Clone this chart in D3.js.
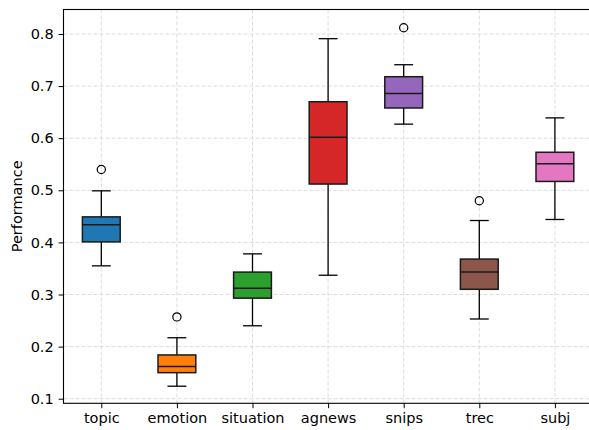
<!DOCTYPE html>
<html>
<head>
<meta charset="utf-8">
<script src="https://cdn.jsdelivr.net/npm/d3@7"></script>
<style>
  html, body { margin: 0; padding: 0; background: #ffffff; }
  svg { display: block; }
  text { font-family: "DejaVu Sans", sans-serif; }
</style>
</head>
<body>
<svg id="chart" width="589" height="430"></svg>
<script>
// ---- data ----
const categories   = ["topic", "emotion", "situation", "agnews", "snips", "trec", "subj"];
const whiskerLow   = [0.355, 0.124, 0.240, 0.337, 0.627, 0.253, 0.444];
const q1           = [0.401, 0.150, 0.293, 0.512, 0.658, 0.310, 0.517];
const medians      = [0.434, 0.162, 0.312, 0.602, 0.686, 0.343, 0.551];
const q3           = [0.449, 0.184, 0.343, 0.670, 0.718, 0.368, 0.573];
const whiskerHigh  = [0.499, 0.217, 0.378, 0.791, 0.741, 0.442, 0.639];
const outliers     = [[0.540], [0.257], [], [], [0.812], [0.480], []];
const colors       = ["#1f77b4", "#ff7f0e", "#2ca02c", "#d62728", "#9467bd", "#8c564b", "#e377c2"];
const yTicks       = [0.1, 0.2, 0.3, 0.4, 0.5, 0.6, 0.7, 0.8];
const yLabel       = "Performance";

const boxes = categories.map((c, i) => ({
  name: c, pos: i + 1,
  lo: whiskerLow[i], q1: q1[i], med: medians[i], q3: q3[i], hi: whiskerHigh[i],
  fliers: outliers[i], color: colors[i]
}));

// ---- layout ----
const plotLeft = 63.5, plotTop = 9.5, plotBottom = 403.3;
const unit = 75.6;
const plotRight = plotLeft + 7 * unit;

const svg = d3.select("#chart");
const x = d3.scaleLinear().domain([0.5, 7.5]).range([plotLeft, plotRight]);
const y = d3.scaleLinear().domain([0.0912, 0.847]).range([plotBottom, plotTop]);

// grid
const grid = svg.append("g");
grid.selectAll("line.gy").data(yTicks).join("line")
  .attr("x1", plotLeft).attr("x2", plotRight)
  .attr("y1", d => y(d)).attr("y2", d => y(d))
  .attr("stroke", "#dcdcdc").attr("stroke-width", 1).attr("stroke-dasharray", "4,2");
grid.selectAll("line.gx").data(boxes).join("line")
  .attr("y1", plotTop).attr("y2", plotBottom)
  .attr("x1", d => x(d.pos)).attr("x2", d => x(d.pos))
  .attr("stroke", "#dcdcdc").attr("stroke-width", 1).attr("stroke-dasharray", "4,2");

// boxes
const bw = x(1.25) - x(1);   // half box width (0.25 units)
const cw = x(1.125) - x(1);  // half cap width
const g = svg.append("g").selectAll("g").data(boxes).join("g");
const lw = 1.3;

g.append("line") // lower whisker
  .attr("x1", d => x(d.pos)).attr("x2", d => x(d.pos))
  .attr("y1", d => y(d.lo)).attr("y2", d => y(d.q1))
  .attr("stroke", "#000").attr("stroke-width", lw);
g.append("line") // upper whisker
  .attr("x1", d => x(d.pos)).attr("x2", d => x(d.pos))
  .attr("y1", d => y(d.q3)).attr("y2", d => y(d.hi))
  .attr("stroke", "#000").attr("stroke-width", lw);
g.append("line") // lower cap
  .attr("x1", d => x(d.pos) - cw).attr("x2", d => x(d.pos) + cw)
  .attr("y1", d => y(d.lo)).attr("y2", d => y(d.lo))
  .attr("stroke", "#000").attr("stroke-width", lw);
g.append("line") // upper cap
  .attr("x1", d => x(d.pos) - cw).attr("x2", d => x(d.pos) + cw)
  .attr("y1", d => y(d.hi)).attr("y2", d => y(d.hi))
  .attr("stroke", "#000").attr("stroke-width", lw);
g.append("rect")
  .attr("x", d => x(d.pos) - bw).attr("width", 2 * bw)
  .attr("y", d => y(d.q3)).attr("height", d => y(d.q1) - y(d.q3))
  .attr("fill", d => d.color).attr("stroke", "#1a1a1a").attr("stroke-width", 1.5);
g.append("line") // median
  .attr("x1", d => x(d.pos) - bw).attr("x2", d => x(d.pos) + bw)
  .attr("y1", d => y(d.med)).attr("y2", d => y(d.med))
  .attr("stroke", "#1a1a1a").attr("stroke-width", 1.5);
g.selectAll("circle").data(d => d.fliers.map(v => ({ v, pos: d.pos }))).join("circle")
  .attr("cx", d => x(d.pos)).attr("cy", d => y(d.v)).attr("r", 4.1)
  .attr("fill", "none").attr("stroke", "#000").attr("stroke-width", 1.2);

// axes
const fs = "14.5px";
const yAxis = svg.append("g").attr("transform", `translate(${plotLeft},0)`)
  .call(d3.axisLeft(y).tickValues(yTicks).tickFormat(d3.format(".1f")).tickSize(4.9).tickPadding(4.9));
yAxis.select(".domain").remove();
yAxis.selectAll("text").attr("font-size", fs).attr("fill", "#000").attr("font-family", "DejaVu Sans");
yAxis.selectAll("line").attr("stroke", "#000").attr("stroke-width", 1);

const xAxis = svg.append("g").attr("transform", `translate(0,${plotBottom})`)
  .call(d3.axisBottom(x).tickValues(boxes.map(b => b.pos)).tickFormat(d => categories[d - 1]).tickSize(4.9).tickPadding(4.9));
xAxis.select(".domain").remove();
xAxis.selectAll("text").attr("font-size", fs).attr("fill", "#000").attr("font-family", "DejaVu Sans");
xAxis.selectAll("line").attr("stroke", "#000").attr("stroke-width", 1);

// spines
svg.append("rect").attr("x", plotLeft).attr("y", plotTop)
  .attr("width", plotRight - plotLeft).attr("height", plotBottom - plotTop)
  .attr("fill", "none").attr("stroke", "#000").attr("stroke-width", 1.1);

// y label
svg.append("text")
  .attr("transform", `translate(21.5,${(plotTop + plotBottom) / 2}) rotate(-90)`)
  .attr("text-anchor", "middle").attr("font-size", fs).attr("fill", "#000")
  .text(yLabel);
</script>
</body>
</html>
